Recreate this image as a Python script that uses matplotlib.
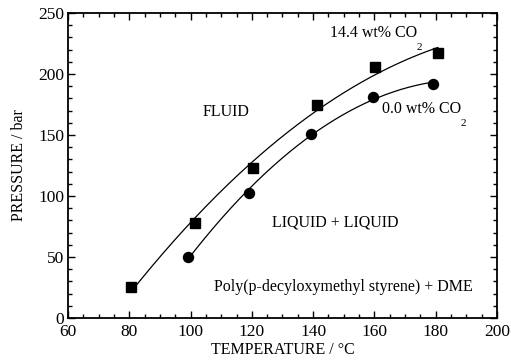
import numpy as np
import matplotlib
matplotlib.use("Agg")
import matplotlib.pyplot as plt
from matplotlib.ticker import MultipleLocator

plt.rcParams['font.family'] = ['Liberation Serif', 'DejaVu Serif']

# data
t_co2 = [80.5, 101.4, 120.5, 141.2, 160.2, 180.7]
p_co2 = [25.2, 77.6, 122.7, 174.6, 206.0, 217.0]
t_neat = [99.1, 119.2, 139.3, 159.4, 179.0]
p_neat = [49.8, 102.2, 150.6, 181.4, 191.8]

fig = plt.figure(figsize=(5.11, 3.61), dpi=100)
ax = fig.add_axes([0.133, 0.119, 0.9726 - 0.133, 0.964 - 0.119])

for t, p, m in [(t_co2, p_co2, 's'), (t_neat, p_neat, 'o')]:
    c = np.polyfit(t, p, 2)
    tt = np.linspace(min(t), max(t), 200)
    ax.plot(tt, np.polyval(c, tt), color='black', lw=0.9)
    ax.plot(t, p, m, color='black', ms=7.5 if m == 's' else 7.2, mec='black')

ax.set_xlim(60, 200)
ax.set_ylim(0, 250)
ax.xaxis.set_major_locator(MultipleLocator(20))
ax.xaxis.set_minor_locator(MultipleLocator(5))
ax.yaxis.set_major_locator(MultipleLocator(50))
ax.yaxis.set_minor_locator(MultipleLocator(10))
ax.tick_params(which='both', direction='in', top=True, right=True, labelsize=12.5, width=1)
ax.tick_params(axis='x', pad=4.5)
ax.tick_params(axis='y', pad=2.5)
ax.tick_params(which='major', length=5)
ax.tick_params(which='minor', length=3)
for s in ax.spines.values():
    s.set_linewidth(1.3)

ax.set_xlabel('TEMPERATURE / °C', fontsize=11.5, labelpad=1.5)
ax.set_ylabel('PRESSURE / bar', fontsize=11.5, labelpad=8)


def co2_label(x, y, head):
    t = ax.text(x, y, head + ' CO', fontsize=11.5, ha='left', va='center')
    ax.annotate('2', xy=(1, 0), xycoords=t, xytext=(-0.5, -4.5),
                textcoords='offset points', fontsize=8, ha='left', va='center')


co2_label(145.5, 233.6, '14.4 wt%')
co2_label(162.5, 171.3, '0.0 wt%')
ax.text(104, 169, 'FLUID', fontsize=11.5, ha='left', va='center')
ax.text(126.6, 77.9, 'LIQUID + LIQUID', fontsize=11.5, ha='left', va='center')
ax.text(107.7, 25.2, 'Poly(p-decyloxymethyl styrene) + DME', fontsize=11.5, ha='left', va='center')

fig.savefig('out.png', dpi=100)
